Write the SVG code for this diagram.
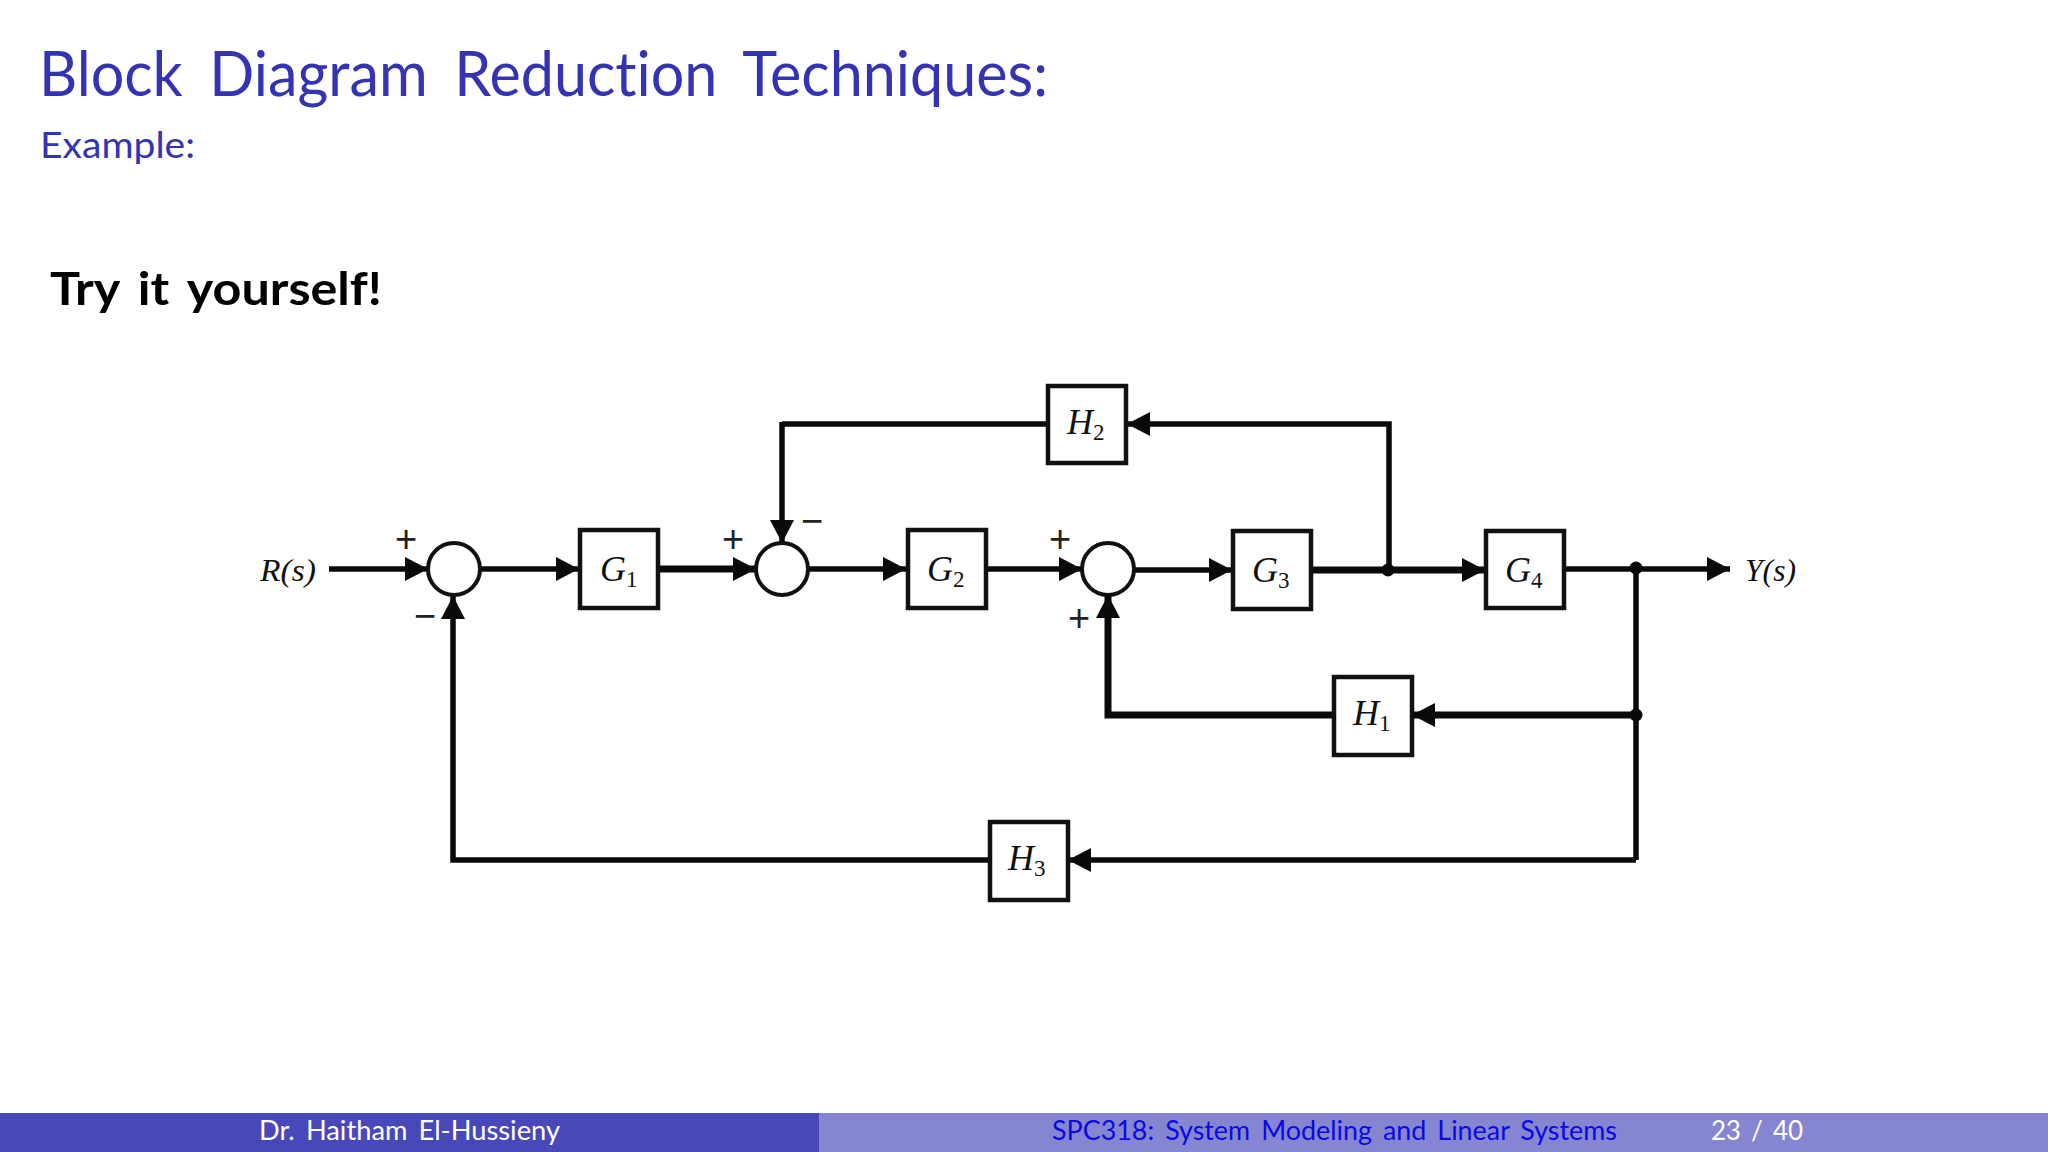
<svg xmlns="http://www.w3.org/2000/svg" width="2048" height="1152" viewBox="0 0 2048 1152">
<style>
text{font-variant-ligatures:none}
.t{font-family:"Lato","Open Sans",sans-serif;fill:#3333b3}
.f{font-family:"Lato","Open Sans",sans-serif;font-size:26px;word-spacing:4px}
.b{fill:#fff;stroke:#111;stroke-width:4.5}
.s{fill:#fff;stroke:#111;stroke-width:4}
.l{font-family:"Liberation Serif",serif;font-style:italic;font-size:36px;fill:#111}
.sub{font-size:23px;font-style:normal}
.c{fill:none;stroke:#0a0a0a;stroke-width:5.5}
.k{stroke-width:7}
.p{font-family:"Liberation Sans",sans-serif;font-size:38px;fill:#222;text-anchor:middle}
</style>
<defs>
<marker id="a" markerUnits="userSpaceOnUse" markerWidth="26" markerHeight="26" refX="23" refY="12" orient="auto"><path d="M0 0L23 12L0 24Z" fill="#0a0a0a"/></marker>
</defs>
<rect width="2048" height="1152" fill="#fff"/>
<text class="t" x="39" y="96" font-size="62" style="word-spacing:12px" textLength="1009" lengthAdjust="spacingAndGlyphs">Block Diagram Reduction Techniques:</text>
<text class="t" x="40" y="158" font-size="36" textLength="155" lengthAdjust="spacingAndGlyphs">Example:</text>
<text x="50" y="305" font-family="Lato,sans-serif" font-weight="700" font-size="46" fill="#000" style="word-spacing:6px" textLength="332" lengthAdjust="spacingAndGlyphs">Try it yourself!</text>

<g id="connectors">
<path class="c" marker-end="url(#a)" d="M329 569H428"/>
<path class="c" marker-end="url(#a)" d="M481 569H579"/>
<path class="c k" marker-end="url(#a)" d="M658 569H756"/>
<path class="c" marker-end="url(#a)" d="M809 569H906"/>
<path class="c" marker-end="url(#a)" d="M986 569H1082"/>
<path class="c" marker-end="url(#a)" d="M1134 570H1232"/>
<path class="c k" marker-end="url(#a)" d="M1311 570H1485"/>
<path class="c" marker-end="url(#a)" d="M1564 569H1730"/>
<path class="c" marker-end="url(#a)" d="M1389 570V424H1127"/>
<path class="c" d="M1047 424H782"/>
<path class="c" marker-end="url(#a)" d="M782 422V543"/>
<path class="c" d="M1636 568V860"/>
<path class="c k" marker-end="url(#a)" d="M1636 715H1412"/>
<path class="c k" marker-end="url(#a)" d="M1333 715H1108V595"/>
<path class="c" marker-end="url(#a)" d="M1636 860H1068"/>
<path class="c" marker-end="url(#a)" d="M989 860H453V596"/>
<circle cx="1388" cy="570" r="6.5" fill="#0a0a0a"/>
<circle cx="1636" cy="568" r="6.5" fill="#0a0a0a"/>
<circle cx="1636" cy="715" r="6.5" fill="#0a0a0a"/>
</g>

<g id="sum1"><circle class="s" cx="454" cy="569" r="26"/></g>
<g id="sum2"><circle class="s" cx="782" cy="569" r="26"/></g>
<g id="sum3"><circle class="s" cx="1108" cy="569" r="26"/></g>
<g id="G1"><rect class="b" x="580" y="530" width="78" height="78"/><text class="l" x="600" y="581">G<tspan class="sub" dy="6">1</tspan></text></g>
<g id="G2"><rect class="b" x="908" y="530" width="78" height="78"/><text class="l" x="927" y="581">G<tspan class="sub" dy="6">2</tspan></text></g>
<g id="G3"><rect class="b" x="1233" y="531" width="78" height="78"/><text class="l" x="1252" y="582">G<tspan class="sub" dy="6">3</tspan></text></g>
<g id="G4"><rect class="b" x="1486" y="531" width="78" height="77"/><text class="l" x="1505" y="582">G<tspan class="sub" dy="6">4</tspan></text></g>
<g id="H2"><rect class="b" x="1048" y="386" width="78" height="77"/><text class="l" x="1067" y="434">H<tspan class="sub" dy="6">2</tspan></text></g>
<g id="H1"><rect class="b" x="1334" y="677" width="78" height="78"/><text class="l" x="1353" y="725">H<tspan class="sub" dy="6">1</tspan></text></g>
<g id="H3"><rect class="b" x="990" y="822" width="78" height="78"/><text class="l" x="1008" y="870">H<tspan class="sub" dy="6">3</tspan></text></g>
<g id="Rs"><text class="l" x="260" y="581" style="font-size:31px" textLength="56" lengthAdjust="spacingAndGlyphs">R(s)</text></g>
<g id="Ys"><text class="l" x="1745" y="581" style="font-size:31px" textLength="51" lengthAdjust="spacingAndGlyphs">Y(s)</text></g>
<g id="signs">
<text class="p" x="406" y="552">+</text>
<text class="p" x="425" y="629">−</text>
<text class="p" x="733" y="552">+</text>
<text class="p" x="812" y="534">−</text>
<text class="p" x="1060" y="552">+</text>
<text class="p" x="1079" y="631">+</text>
</g>

<g id="footer">
<rect x="0" y="1113" width="819" height="39" fill="#4848b8"/>
<rect x="819" y="1113" width="1229" height="39" fill="#8585d2"/>
<text class="f" x="259" y="1140" fill="#fff" textLength="301" lengthAdjust="spacingAndGlyphs">Dr. Haitham El-Hussieny</text>
<text class="f" x="1052" y="1140" fill="#0a0ae0" textLength="565" lengthAdjust="spacingAndGlyphs">SPC318: System Modeling and Linear Systems</text>
<text class="f" x="1711" y="1140" fill="#fff" textLength="92" lengthAdjust="spacing">23 / 40</text>
</g>
</svg>
